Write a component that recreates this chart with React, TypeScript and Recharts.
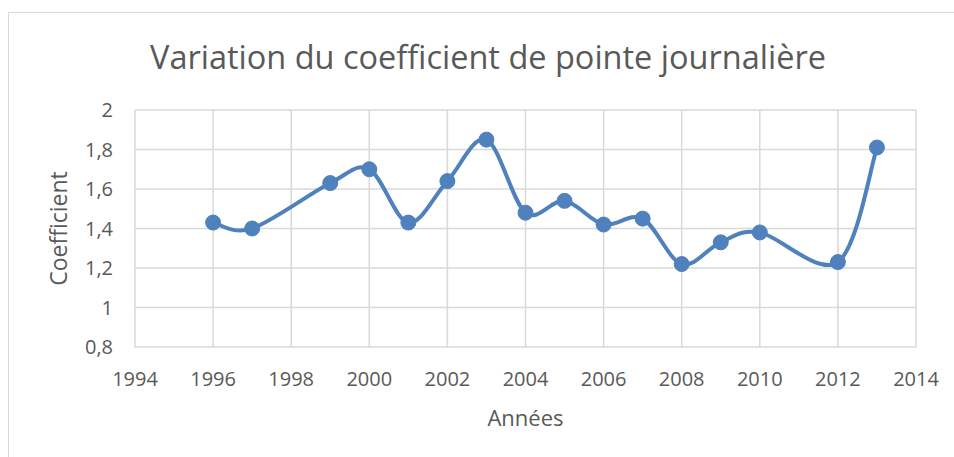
import { LineChart, Line, XAxis, YAxis, CartesianGrid, Label } from 'recharts'

const years = [1996, 1997, 1999, 2000, 2001, 2002, 2003, 2004, 2005, 2006, 2007, 2008, 2009, 2010, 2012, 2013]
const coefficients = [1.43, 1.4, 1.63, 1.7, 1.43, 1.64, 1.85, 1.48, 1.54, 1.42, 1.45, 1.22, 1.33, 1.38, 1.23, 1.81]
const xTicks = [1994, 1996, 1998, 2000, 2002, 2004, 2006, 2008, 2010, 2012, 2014]
const yTicks = [0.8, 1, 1.2, 1.4, 1.6, 1.8, 2]

const data = years.map((year, i) => ({ year, value: coefficients[i] }))

// Excel-like smoothed line (Catmull-Rom through the points)
function smoothCurve(context: any) {
  let pts: number[][] = []
  return {
    areaStart() {},
    areaEnd() {},
    lineStart() { pts = [] },
    point(x: number, y: number) { pts.push([+x, +y]) },
    lineEnd() {
      if (!pts.length) return
      context.moveTo(pts[0][0], pts[0][1])
      for (let i = 0; i < pts.length - 1; i++) {
        const p0 = pts[i - 1] || pts[i]
        const p1 = pts[i]
        const p2 = pts[i + 1]
        const p3 = pts[i + 2] || p2
        context.bezierCurveTo(
          p1[0] + (p2[0] - p0[0]) / 6, p1[1] + (p2[1] - p0[1]) / 6,
          p2[0] - (p3[0] - p1[0]) / 6, p2[1] - (p3[1] - p1[1]) / 6,
          p2[0], p2[1]
        )
      }
    }
  }
}

const font = '"Open Sans", sans-serif'
const grey = '#595959'

export default function App() {
  return (
    <div style={{ position: 'absolute', left: 0, top: 0, width: 954, height: 457, background: '#fff', fontFamily: font, overflow: 'hidden' }}>
      <div style={{ position: 'absolute', left: 8, top: 12, width: 960, height: 460, border: '1px solid #d9d9d9' }} />
      <div style={{ position: 'absolute', left: 0, width: 976, top: 34, textAlign: 'center', fontSize: 32.5, lineHeight: 'normal', color: grey, whiteSpace: 'nowrap' }}>
        Variation du coefficient de pointe journalière
      </div>
      <div style={{ position: 'absolute', left: 0, top: 0 }}>
        <LineChart width={954} height={457} data={data} margin={{ top: 110, right: 38, bottom: 30, left: 10 }}>
          <CartesianGrid stroke="#d9d9d9" strokeWidth={1.5} />
          <XAxis
            type="number"
            dataKey="year"
            domain={[1994, 2014]}
            ticks={xTicks}
            axisLine={false}
            tickLine={false}
            tickSize={0}
            tickMargin={25}
            height={80}
            tick={{ fill: grey, fontSize: 20, fontFamily: font }}
          >
            <Label value="Années" position="insideBottom" offset={1} style={{ fill: grey, fontSize: 22, fontFamily: font }} />
          </XAxis>
          <YAxis
            type="number"
            domain={[0.8, 2]}
            ticks={yTicks}
            axisLine={false}
            tickLine={false}
            tickSize={0}
            tickMargin={22}
            width={125}
            tickFormatter={(v: number) => String(v).replace('.', ',')}
            tick={{ fill: grey, fontSize: 20, fontFamily: font }}
          >
            <Label value="Coefficient" angle={-90} position="insideLeft" offset={49} style={{ fill: grey, fontSize: 23, fontFamily: font, textAnchor: 'middle' }} />
          </YAxis>
          <Line
            type={smoothCurve as any}
            dataKey="value"
            stroke="#4f81bd"
            strokeWidth={4}
            dot={{ r: 7.5, fill: '#4f81bd', stroke: '#4f81bd', strokeWidth: 1 }}
            activeDot={false}
            isAnimationActive={false}
          />
        </LineChart>
      </div>
    </div>
  )
}
